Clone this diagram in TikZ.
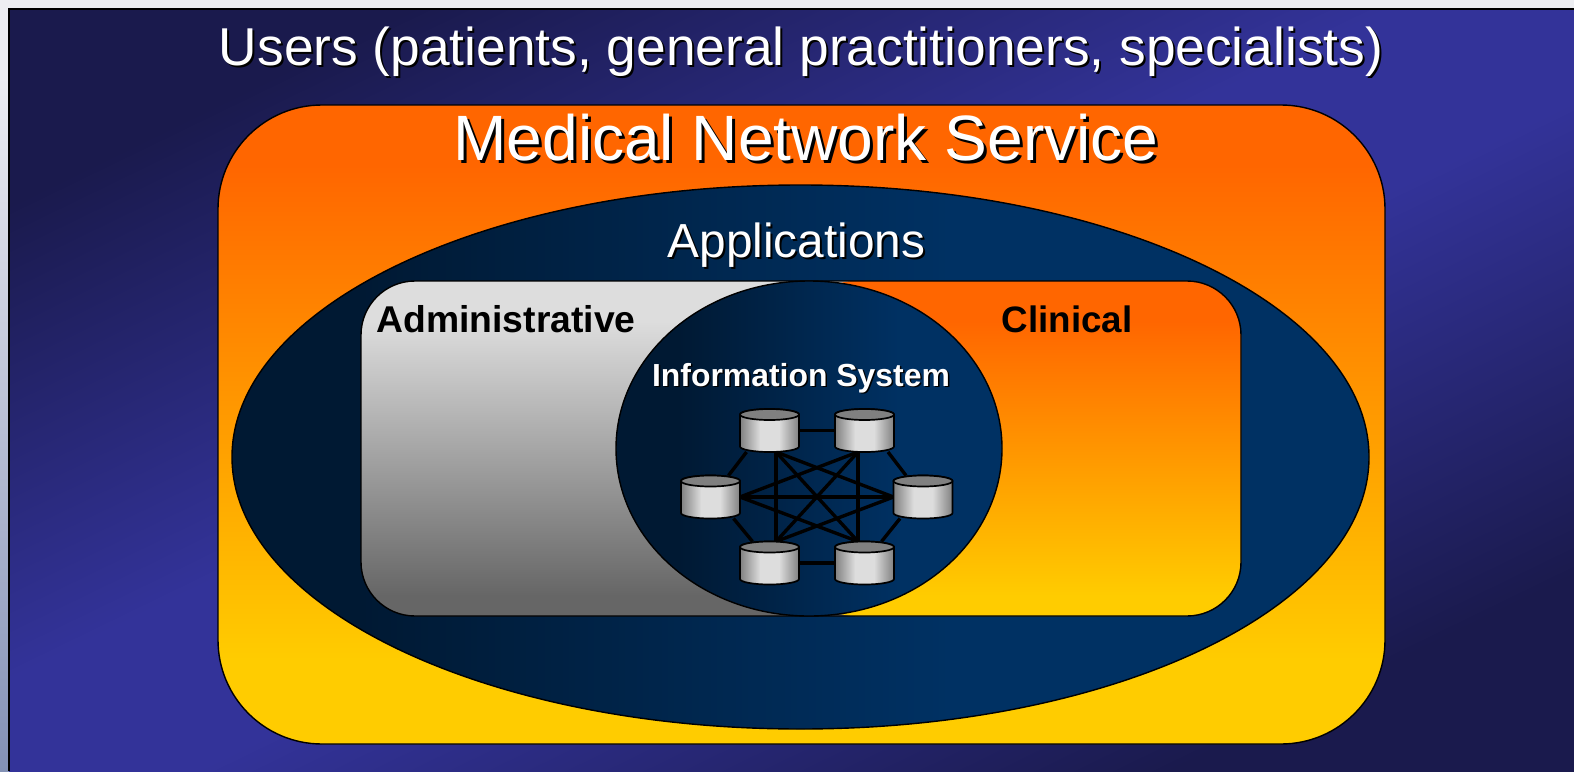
\documentclass[tikz,border=0pt]{standalone}
\usepackage{fontspec}
\setmainfont{Liberation Sans}
\usetikzlibrary{shapes.geometric,calc}
\definecolor{bgdark}{HTML}{1A1A4D}
\definecolor{bgmid}{HTML}{333399}
\definecolor{org}{HTML}{FF6600}
\definecolor{gold}{HTML}{FFCC00}
\definecolor{navyd}{HTML}{001933}
\definecolor{navyl}{HTML}{003163}
\definecolor{gl}{HTML}{DDDDDD}
\definecolor{gd}{HTML}{666666}
\definecolor{gm}{HTML}{808080}
\definecolor{stripb}{HTML}{8391B5}
\definecolor{stripm}{HTML}{BFC5D8}
\definecolor{stript}{HTML}{EDEEF2}
\pgfdeclareverticalshading{bgshade}{100bp}{color(0bp)=(bgdark); color(25bp)=(bgdark); color(46bp)=(bgmid); color(54bp)=(bgmid); color(75bp)=(bgdark); color(100bp)=(bgdark)}
\pgfdeclareverticalshading{stripshade}{100bp}{color(0bp)=(stripb); color(25bp)=(stripb); color(50bp)=(stripm); color(70bp)=(stript); color(100bp)=(stript)}
\pgfdeclareverticalshading{orgouter}{100bp}{color(0bp)=(gold); color(31.6bp)=(gold); color(70.3bp)=(org); color(100bp)=(org)}
\pgfdeclareverticalshading{orginner}{100bp}{color(0bp)=(gold); color(28bp)=(gold); color(69bp)=(org); color(100bp)=(org)}
\pgfdeclareverticalshading{greyinner}{100bp}{color(0bp)=(gd); color(28bp)=(gd); color(69bp)=(gl); color(100bp)=(gl)}
\pgfdeclarehorizontalshading{appshade}{100bp}{color(0bp)=(navyd); color(30.6bp)=(navyd); color(56.6bp)=(navyl); color(100bp)=(navyl)}
\pgfdeclarehorizontalshading{infoshade}{100bp}{color(0bp)=(navyd); color(33bp)=(navyd); color(62bp)=(navyl); color(100bp)=(navyl)}
\pgfdeclarehorizontalshading{cylshade}{100bp}{color(0bp)=(gm); color(25bp)=(gm); color(42bp)=(gl); color(58bp)=(gl); color(75bp)=(gm); color(100bp)=(gm)}
\newcommand{\shtxt}[2]{\leavevmode\rlap{\kern#1\raisebox{-#1}{\color{black}#2}}#2}
\newcommand{\cylshape}[1]{%
  \draw[cylline,shade,shading=cylshade]
    ($(#1.north west)+(0,5.5)$) -- ($(#1.south west)+(0,-5.5)$)
    arc[start angle=180,end angle=360,x radius=29.5pt,y radius=5.5pt]
    -- ($(#1.north east)+(0,5.5)$)
    arc[start angle=0,end angle=180,x radius=29.5pt,y radius=5.5pt] -- cycle;
  \draw[cylline,fill=gm] ($(#1.north)+(0,5.5)$) ellipse [x radius=29.5pt,y radius=5.5pt];}
\tikzset{
  blob/.style={draw=black,line width=1.4pt,inner sep=0pt,outer sep=0pt},
  cylbox/.style={rectangle,inner sep=0pt,outer sep=0pt,minimum width=59pt,minimum height=43pt},
  cylline/.style={draw=black,line width=1.7pt},
  link/.style={draw=black,line width=3.4pt},
  lab/.style={inner sep=0pt,anchor=base}
}
\begin{document}
\begin{tikzpicture}[x=1pt,y=-1pt]
\useasboundingbox (0,0) rectangle (1574,771);
\shade[shading=stripshade] (0,0) rectangle (1574,771);
\shade[shading=bgshade,shading angle=25.9] (9,9) rectangle (1574,771);
\draw[black,line width=2pt] (9,771) -- (9,9) -- (1574,9);
\node[blob,rectangle,rounded corners=104pt,minimum width=1167pt,minimum height=639pt,shade,shading=orgouter] (service) at (801.5,424.5) {};
\node[blob,ellipse,minimum width=1137pt,minimum height=544pt,shade,shading=appshade] (apps) at (800.5,457) {};
\node[blob,rectangle,rounded corners=54pt,minimum width=880pt,minimum height=335pt,shade,shading=greyinner,
  path picture={\shade[shading=orginner] (path picture bounding box.north) rectangle (path picture bounding box.south east);}] (inner) at (801,448.5) {};
\node[blob,ellipse,minimum width=386pt,minimum height=335pt,shade,shading=infoshade] (info) at (809,448.5) {};
\node[lab,text=white] (users) at (801,65) {\fontsize{53.3}{54}\selectfont\shtxt{2pt}{Users (patients, general practitioners, specialists)}};
\node[lab,text=white] (mns) at (806,160) {\fontsize{64.1}{65}\selectfont\shtxt{3pt}{Medical Network Service}};
\node[lab,text=white] (applab) at (796.5,257) {\fontsize{47.8}{48}\selectfont\shtxt{2pt}{Applications}};
\node[lab,text=black] (admin) at (506,332.5) {\fontsize{37.3}{38}\selectfont\bfseries Administrative};
\node[lab,text=black] (clin) at (1067,332.5) {\fontsize{36.8}{37}\selectfont\bfseries Clinical};
\node[lab,text=white] (islab) at (801,386) {\fontsize{31.9}{32}\selectfont\bfseries\shtxt{1.5pt}{Information System}};
\node[cylbox] (c1) at (769.5,430.5) {};
\node[cylbox] (c2) at (864.5,430.5) {};
\node[cylbox] (c3) at (710.5,497) {};
\node[cylbox] (c4) at (923,497) {};
\node[cylbox] (c5) at (769.5,563) {};
\node[cylbox] (c6) at (864.5,563) {};
\coordinate (p1) at ($(c1.south)+(6.5,0)$);
\coordinate (p2) at ($(c2.south)+(-6.5,0)$);
\coordinate (p3) at (c3.east);
\coordinate (p4) at (c4.west);
\coordinate (p5) at ($(c5.north)+(6.5,0)$);
\coordinate (p6) at ($(c6.north)+(-6.5,0)$);
\draw[link] (c1) -- (c2);
\draw[link] (c5) -- (c6);
\draw[link] ($(c1.south)+(-23,0)$) -- ($(c3.north)+(18,0)$);
\draw[link] ($(c2.south)+(23.5,0)$) -- ($(c4.north)+(-17,0)$);
\draw[link] ($(c3.south)+(23,0)$) -- ($(c5.north)+(-17,0)$);
\draw[link] ($(c4.south)+(-23,0)$) -- ($(c6.north)+(17,0)$);
\draw[link] (p1) -- (p5);
\draw[link] (p2) -- (p6);
\draw[link] (p3) -- (p4);
\draw[link] (p1) -- (p6);
\draw[link] (p2) -- (p5);
\draw[link] (p1) -- (p4);
\draw[link] (p2) -- (p3);
\draw[link] (p3) -- (p6);
\draw[link] (p4) -- (p5);
\cylshape{c1}\cylshape{c2}\cylshape{c3}\cylshape{c4}\cylshape{c5}\cylshape{c6}
\end{tikzpicture}
\end{document}
